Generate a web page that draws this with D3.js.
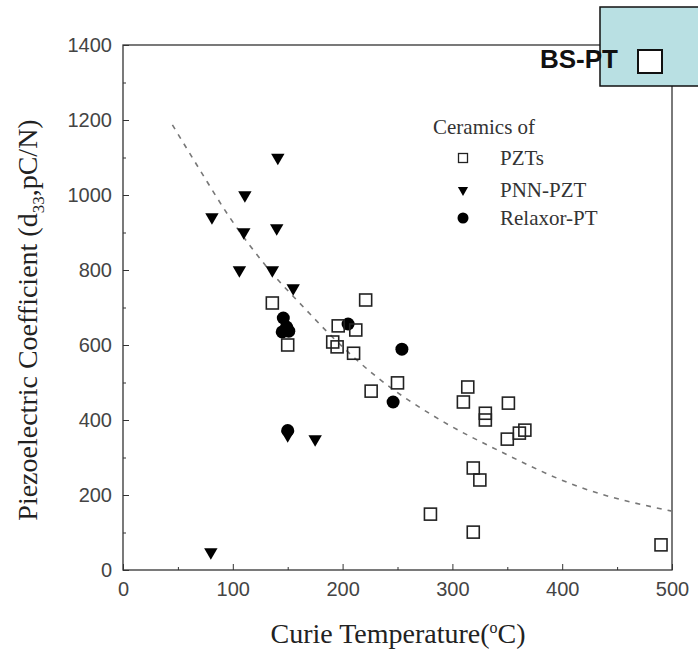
<!DOCTYPE html>
<html>
<head>
<meta charset="utf-8">
<script src="https://cdn.jsdelivr.net/npm/d3@7"></script>
<style>
  body { margin: 0; background: #fff; }
  svg { display: block; }
</style>
</head>
<body>
<svg width="698" height="654"></svg>
<script>
// Curie temperature (°C) and d33 (pC/N)
const pztTc  = [136, 150, 221, 196, 212, 191, 195, 210, 226, 250, 314, 310, 330, 330, 351, 350, 361, 366, 319, 325, 280, 319, 490];
const pztD33 = [712, 600, 720, 651, 640, 608, 595, 578, 477, 499, 488, 448, 418, 400, 445, 349, 365, 373, 272, 240, 149, 101, 67];

const pnnTc  = [141, 111, 81, 110, 140, 106, 136, 155, 175, 150, 80];
const pnnD33 = [1100, 1000, 941, 901, 912, 800, 800, 752, 349, 360, 48];

const relaxTc  = [146, 149, 151, 145, 205, 246, 254, 150];
const relaxD33 = [672, 648, 637, 635, 656, 448, 589, 372];

// dashed trend line
const trendTc  = [45, 70, 97, 131, 168, 186, 231, 289, 341, 416, 500];
const trendD33 = [1187, 1067, 941, 808, 690, 635, 515, 400, 320, 221, 157];

const xTicks = [0, 100, 200, 300, 400, 500];
const yTicks = [0, 200, 400, 600, 800, 1000, 1200, 1400];
const legendNames = ['PZTs', 'PNN-PZT', 'Relaxor-PT'];

const svg = d3.select('svg');

const x = d3.scaleLinear().domain([0, 500]).range([123, 672]);
const y = d3.scaleLinear().domain([0, 1400]).range([570, 45]);

const axisColor = '#333';
const serif = '"Liberation Serif", "Times New Roman", serif';
const sans = '"Liberation Sans", Arial, sans-serif';

// frame
svg.append('rect')
    .attr('x', x(0)).attr('y', y(1400))
    .attr('width', x(500) - x(0)).attr('height', y(0) - y(1400))
    .attr('fill', 'none')
    .attr('stroke', axisColor)
    .attr('stroke-width', 1.3);

// bottom axis, ticks pointing inward
const xAxis = svg.append('g')
    .attr('transform', `translate(0,${y(0)})`)
    .call(d3.axisBottom(x).tickValues(xTicks).tickFormat(d3.format('d'))
        .tickSizeInner(-6).tickSizeOuter(0).tickPadding(12));
xAxis.select('.domain').remove();
xAxis.selectAll('text')
    .style('font-family', sans)
    .style('font-size', '20px')
    .attr('fill', '#444');
xAxis.selectAll('line').attr('stroke', axisColor);
svg.append('g')
    .attr('transform', `translate(0,${y(0)})`)
    .call(d3.axisBottom(x).tickValues([50, 150, 250, 350, 450]).tickSize(-3).tickFormat(''))
    .call(g => g.select('.domain').remove())
    .selectAll('line').attr('stroke', axisColor);

// left axis
const yAxis = svg.append('g')
    .attr('transform', `translate(${x(0)},0)`)
    .call(d3.axisLeft(y).tickValues(yTicks).tickFormat(d3.format('d'))
        .tickSizeInner(-6).tickSizeOuter(0).tickPadding(11));
yAxis.select('.domain').remove();
yAxis.selectAll('text')
    .style('font-family', sans)
    .style('font-size', '20px')
    .attr('fill', '#444');
yAxis.selectAll('line').attr('stroke', axisColor);
svg.append('g')
    .attr('transform', `translate(${x(0)},0)`)
    .call(d3.axisLeft(y).tickValues([100, 300, 500, 700, 900, 1100, 1300]).tickSize(-3).tickFormat(''))
    .call(g => g.select('.domain').remove())
    .selectAll('line').attr('stroke', axisColor);

// axis titles
const xTitle = svg.append('text')
    .attr('x', 398)
    .attr('y', 643)
    .attr('text-anchor', 'middle')
    .style('font-family', serif)
    .style('font-size', '28px')
    .attr('fill', '#222');
xTitle.append('tspan').text('Curie Temperature(');
xTitle.append('tspan').attr('dy', -10).attr('font-size', 16).text('o');
xTitle.append('tspan').attr('dy', 10).text('C)');

const yTitle = svg.append('text')
    .attr('transform', 'translate(37,320) rotate(-90)')
    .attr('text-anchor', 'middle')
    .style('font-family', serif)
    .style('font-size', '28px')
    .attr('fill', '#222');
yTitle.append('tspan').text('Piezoelectric Coefficient (d');
yTitle.append('tspan').attr('dy', 7).attr('font-size', 17).text('33');
yTitle.append('tspan').attr('dy', -7).text(',pC/N)');

// trend line
const line = d3.line()
    .x((d, i) => x(trendTc[i]))
    .y((d, i) => y(trendD33[i]))
    .curve(d3.curveMonotoneX);
svg.append('path')
    .datum(trendTc)
    .attr('d', line)
    .attr('fill', 'none')
    .attr('stroke', '#777')
    .attr('stroke-width', 1.6)
    .attr('stroke-dasharray', '5,6');

// markers
const tri = d3.symbol().type(d3.symbolTriangle).size(78);

svg.append('g').selectAll('path')
    .data(pnnTc)
    .join('path')
    .attr('d', tri)
    .attr('transform', (d, i) => `translate(${x(d)},${y(pnnD33[i])}) rotate(180)`)
    .attr('fill', '#000');

svg.append('g').selectAll('circle')
    .data(relaxTc)
    .join('circle')
    .attr('cx', d => x(d))
    .attr('cy', (d, i) => y(relaxD33[i]))
    .attr('r', 6.5)
    .attr('fill', '#000');

svg.append('g').selectAll('rect')
    .data(pztTc)
    .join('rect')
    .attr('x', d => x(d) - 6)
    .attr('y', (d, i) => y(pztD33[i]) - 6)
    .attr('width', 12)
    .attr('height', 12)
    .attr('fill', 'none')
    .attr('stroke', '#222')
    .attr('stroke-width', 1.6);

// legend
const legend = svg.append('g').attr('transform', 'translate(433,0)');
legend.append('text')
    .attr('x', 0).attr('y', 134)
    .style('font-family', serif)
    .style('font-size', '21px')
    .attr('fill', '#333')
    .text('Ceramics of');
const legY = [158, 190, 218];
legend.append('rect')
    .attr('x', 25.5).attr('y', legY[0] - 4.5).attr('width', 9).attr('height', 9)
    .attr('fill', 'none').attr('stroke', '#222').attr('stroke-width', 1.3);
legend.append('path')
    .attr('d', d3.symbol().type(d3.symbolTriangle).size(45))
    .attr('transform', `translate(30,${legY[1]}) rotate(180)`)
    .attr('fill', '#000');
legend.append('circle')
    .attr('cx', 30).attr('cy', legY[2]).attr('r', 5.5).attr('fill', '#000');
legend.selectAll('text.name')
    .data(legendNames)
    .join('text')
    .attr('class', 'name')
    .attr('x', 67)
    .attr('y', (d, i) => legY[i] + 7)
    .style('font-family', serif)
    .style('font-size', '21px')
    .attr('fill', '#333')
    .text(d => d);

// BS-PT callout box
svg.append('rect')
    .attr('x', 600).attr('y', 7)
    .attr('width', 110).attr('height', 79)
    .attr('fill', '#b9e0e3')
    .attr('stroke', '#111')
    .attr('stroke-width', 1.5);
svg.append('text')
    .attr('x', 540).attr('y', 68)
    .style('font-family', sans)
    .style('font-size', '26px')
    .style('font-weight', 'bold')
    .attr('fill', '#111')
    .text('BS-PT');
svg.append('rect')
    .attr('x', 638).attr('y', 50)
    .attr('width', 24).attr('height', 23)
    .attr('fill', '#fff')
    .attr('stroke', '#111')
    .attr('stroke-width', 2);
</script>
</body>
</html>
